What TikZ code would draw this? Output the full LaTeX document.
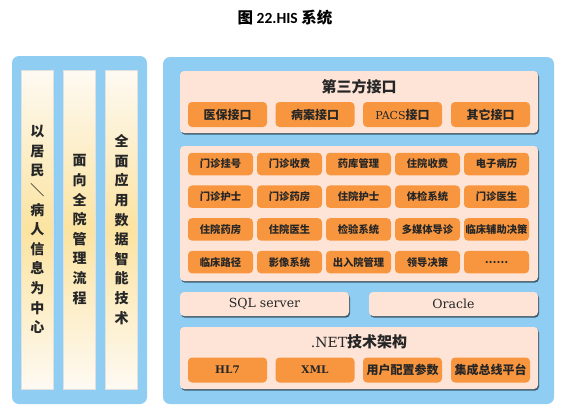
\documentclass[tikz,border=0pt]{standalone}
\usepackage{fontspec}
\setmainfont{DejaVu Serif}
\newfontfamily\cjk{Noto Sans CJK SC}
\newfontfamily\titlelat{Carlito}
\usetikzlibrary{shadows}
\definecolor{panelblue}{HTML}{8FCDF3}
\definecolor{peach}{HTML}{FDE4D7}
\definecolor{orangebox}{HTML}{F8963F}
\definecolor{cream}{HTML}{FEFAF3}
\definecolor{creamy}{HTML}{FBE3A0}
\definecolor{txt}{HTML}{262626}
\tikzset{
  panel/.style={fill=panelblue, rounded corners=7pt, inner sep=0pt},
  column/.style={top color=cream, bottom color=cream, middle color=creamy, draw=black!12, line width=0.6pt, inner sep=0pt, minimum width=32pt, minimum height=319pt},
  coltext/.style={font=\cjk\bfseries\fontsize{14}{19.6}\selectfont, text=txt, align=center},
  peachbox/.style={fill=peach, rounded corners=4pt, inner sep=0pt, drop shadow={shadow xshift=1pt, shadow yshift=-1.6pt, fill=black, opacity=.55}},
  obox/.style={fill=orangebox, rounded corners=4pt, inner sep=0pt, text=txt},
  bigobox/.style={obox, minimum width=79pt, minimum height=25pt, font=\cjk\bfseries\fontsize{12}{14}\selectfont},
  smallobox/.style={obox, minimum width=65pt, minimum height=22.5pt, font=\cjk\bfseries\fontsize{10.3}{12}\selectfont},
  boxtitle/.style={font=\cjk\bfseries\fontsize{15}{17}\selectfont, text=txt},
  dbtext/.style={font=\fontsize{12.5}{15}\selectfont, text=txt},
  lat/.style={},
}
\newcommand{\latin}[1]{{\rmfamily\mdseries #1}}
\newcommand{\latinb}[1]{{\rmfamily\bfseries\fontsize{10.5}{12}\selectfont #1}}
\begin{document}
\begin{tikzpicture}[x=1pt,y=-1pt]
\useasboundingbox (0,0) rectangle (562,413);
% title
\node (title) at (285,18) {\cjk\bfseries\fontsize{15.5}{17}\selectfont 图 {\titlelat\bfseries 22.HIS} 系统};
% left panel
\node[panel, minimum width=135pt, minimum height=348pt] (lpanel) at (79.5,230) {};
\node[column] (c1) at (37.5,229.5) {};
\node[column] (c2) at (79.5,229.5) {};
\node[column] (c3) at (121.5,229.5) {};
\node[coltext] (t1) at (c1) {以\\居\\民\\＼\\病\\人\\信\\息\\为\\中\\心};
\node[coltext] (t2) at (c2) {面\\向\\全\\院\\管\\理\\流\\程};
\node[coltext] (t3) at (c3) {全\\面\\应\\用\\数\\据\\智\\能\\技\\术};
% right panel
\node[panel, minimum width=391pt, minimum height=347pt] (rpanel) at (358.5,230.5) {};
% third party
\node[peachbox, minimum width=358pt, minimum height=62pt] (tp) at (359,102) {};
\node[boxtitle] (tpt) at (359,87) {第三方接口};
\node[bigobox] (tp1) at (227.5,114.5) {医保接口};
\node[bigobox] (tp2) at (315,114.5) {病案接口};
\node[bigobox] (tp3) at (402.5,114.5) {\latin{\fontsize{11}{12}\selectfont PACS}接口};
\node[bigobox] (tp4) at (490.5,114.5) {其它接口};
% modules
\node[peachbox, minimum width=358pt, minimum height=135pt] (mod) at (359,213.5) {};
\foreach \t [count=\i from 0] in {门诊挂号,门诊收费,药库管理,住院收费,电子病历,
  门诊护士,门诊药房,住院护士,体检系统,门诊医生,
  住院药房,住院医生,检验系统,多媒体导诊,临床辅助决策,
  临床路径,影像系统,出入院管理,领导决策,……}{
  \pgfmathtruncatemacro\r{int(\i/5)}
  \pgfmathtruncatemacro\c{mod(\i,5)}
  \pgfmathsetmacro\cx{220.5+69*\c}
  \pgfmathsetmacro\cy{164+32.7*\r}
  \node[smallobox] (m\i) at (\cx,\cy) {\t};
}
% databases
\node[peachbox, minimum width=169pt, minimum height=24pt, dbtext] (sql) at (264.5,304) {SQL server};
\node[peachbox, minimum width=169pt, minimum height=24pt, dbtext] (ora) at (453.5,304) {Oracle};
% .NET
\node[peachbox, minimum width=358pt, minimum height=62pt] (net) at (359,358) {};
\node[boxtitle] (nett) at (359,342) {\latin{\fontsize{14}{16}\selectfont .NET}技术架构};
\node[bigobox] (n1) at (227.5,370) {\latinb{HL7}};
\node[bigobox] (n2) at (315,370) {\latinb{XML}};
\node[bigobox] (n3) at (402.5,370) {用户配置参数};
\node[bigobox] (n4) at (490.5,370) {集成总线平台};
\end{tikzpicture}
\end{document}
